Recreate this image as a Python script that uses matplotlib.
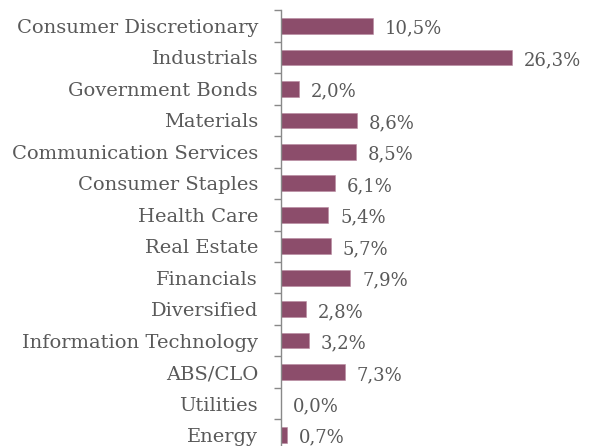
import matplotlib
matplotlib.use("Agg")
import matplotlib.pyplot as plt

categories = ["Consumer Discretionary", "Industrials", "Government Bonds", "Materials",
              "Communication Services", "Consumer Staples", "Health Care", "Real Estate",
              "Financials", "Diversified", "Information Technology", "ABS/CLO",
              "Utilities", "Energy"]
values = [10.5, 26.3, 2.0, 8.6, 8.5, 6.1, 5.4, 5.7, 7.9, 2.8, 3.2, 7.3, 0.0, 0.7]
value_labels = ["10,5%", "26,3%", "2,0%", "8,6%", "8,5%", "6,1%", "5,4%", "5,7%",
                "7,9%", "2,8%", "3,2%", "7,3%", "0,0%", "0,7%"]

plt.rcParams['font.family'] = ['DejaVu Serif']
W, H = 603, 446
fig = plt.figure(figsize=(W/100, H/100), dpi=100)
left = 281 / W
top_px = 10.25
bottom_px = 450.75
xmax = 30
width_px = xmax * 8.78
ax = fig.add_axes([left, (H - bottom_px) / H, width_px / W, (bottom_px - top_px) / H])

n = len(categories)
pos = list(range(n))
ax.barh(pos, values, height=0.5, color="#8C4D6B", edgecolor="#B88AA0", linewidth=0.4)
ax.set_ylim(n - 0.5, -0.5)
ax.set_xlim(0, xmax)

for p, v, lab in zip(pos, values, value_labels):
    ax.annotate(lab, xy=(v, p), xytext=(8.5, -2), textcoords="offset points",
                ha="left", va="center", fontsize=13, color="#595959", clip_on=False)

ax.set_yticks(pos)
ax.set_yticklabels(categories, fontsize=14, color="#595959")
ax.tick_params(axis="y", length=0, pad=16.5)
ax.set_yticks([i - 0.5 for i in range(n + 1)], minor=True)
ax.tick_params(axis="y", which="minor", length=5, color="#898989", width=1)
ax.set_xticks([])
for s in ["top", "right", "bottom"]:
    ax.spines[s].set_visible(False)
ax.spines["left"].set_color("#898989")
ax.spines["left"].set_linewidth(1)

fig.savefig("out.png", dpi=100)
